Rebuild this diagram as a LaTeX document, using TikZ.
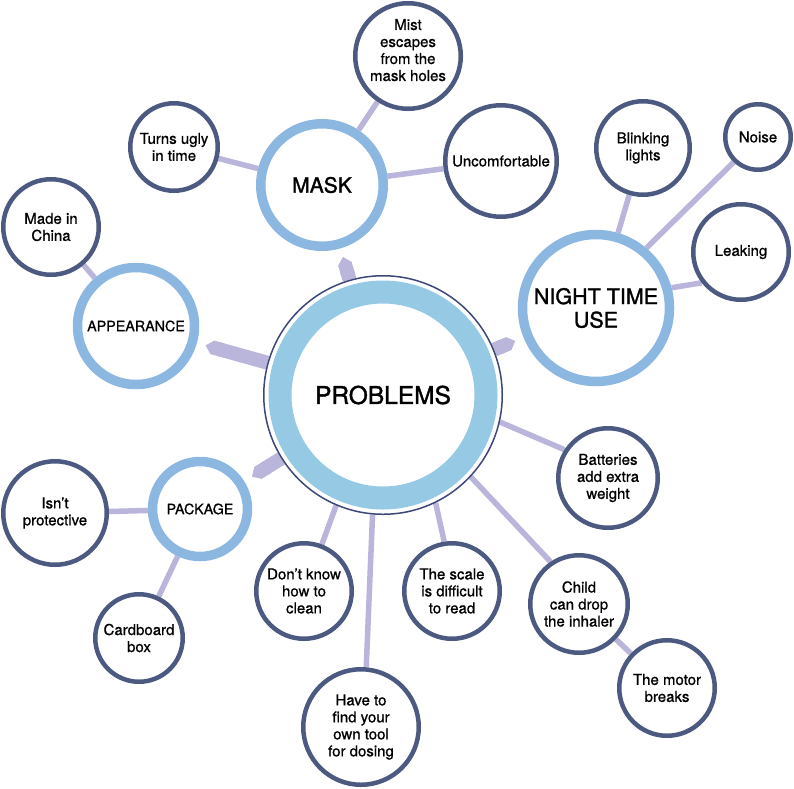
\documentclass[tikz,border=0pt]{standalone}
\usepackage{fontspec}
\setmainfont{TeX Gyre Heros}[FakeBold=0.8]
\newfontfamily\headfont{TeX Gyre Heros}[FakeBold=1.4]
\usepackage{tikz}
\usetikzlibrary{arrows.meta,backgrounds}

\definecolor{linkcol}{HTML}{B9B5DB}
\definecolor{leafcol}{HTML}{4C5A82}
\definecolor{topiccol}{HTML}{8BB7E1}
\definecolor{probring}{HTML}{96CAE4}
\definecolor{probline}{HTML}{3E4878}

\begin{document}
\begin{tikzpicture}[x=1pt,y=-1pt,
    leaf/.style={circle,draw=leafcol,line width=4.5pt,fill=white,inner sep=0pt,
      align=center,font=\fontsize{15}{17}\selectfont},
    topic/.style={circle,draw=topiccol,line width=9.5pt,fill=white,inner sep=0pt,align=center},
    link/.style={draw=linkcol,line width=5.5pt},
    band/.style={draw=linkcol,line width=14pt,-{Triangle Cap},shorten >=9pt}]
      \useasboundingbox (0,0) rectangle (794,788);
      % centre
      \node[circle,draw=probline,line width=1.5pt,fill=white,minimum size=238.5pt,
        font=\headfont\fontsize{24.5}{26}\selectfont] (prob) at (383,395) {PROBLEMS};
      \draw[probring,line width=23pt] (prob.center) circle[radius=103pt];
      % topics
      \node[topic,minimum size=122.5pt,font=\headfont\fontsize{21}{23}\selectfont] (mask) at (322,185) {MASK};
      \node[topic,minimum size=117pt,font=\fontsize{14.3}{16}\selectfont] (app) at (136,326) {APPEARANCE};
      \node[topic,minimum size=147pt,font=\headfont\fontsize{21.5}{23.5}\selectfont] (night) at (596,308) {NIGHT TIME\\USE};
      \node[topic,minimum size=95pt,font=\fontsize{14.3}{16}\selectfont] (pack) at (200,509) {PACKAGE};
      % leaves
      \node[leaf,minimum size=103.5pt,text depth=12pt] (mist) at (408,56) {Mist\\escapes\\from the\\mask holes};
      \node[leaf,minimum size=87.5pt] (ugly) at (174,147) {Turns ugly\\in time};
      \node[leaf,minimum size=111.5pt] (uncomf) at (501,161) {Uncomfortable};
      \node[leaf,minimum size=95.5pt] (china) at (51,227) {Made in\\China};
      \node[leaf,minimum size=93.5pt] (blink) at (643,148) {Blinking\\lights};
      \node[leaf,minimum size=65.5pt] (noise) at (758,137) {Noise};
      \node[leaf,minimum size=95.5pt] (leak) at (741,252) {Leaking};
      \node[leaf,minimum size=103.5pt] (isnt) at (55,513) {Isn’t\\protective};
      \node[leaf,minimum size=87.5pt] (card) at (139,638) {Cardboard\\box};
      \node[leaf,minimum size=95.5pt] (dont) at (304,591) {Don’t know\\how to\\clean};
      \node[leaf,minimum size=115.5pt] (have) at (361,727) {Have to\\find your\\own tool\\for dosing};
      \node[leaf,minimum size=95.5pt] (scale) at (452,591) {The scale\\is difficult\\to read};
      \node[leaf,minimum size=99.5pt] (batt) at (608,478) {Batteries\\add extra\\weight};
      \node[leaf,minimum size=97.5pt] (child) at (579,604) {Child\\can drop\\the inhaler};
      \node[leaf,minimum size=95.5pt] (motor) at (667,688) {The motor\\breaks};
      % connectors
      \begin{scope}[on background layer]
        \path[band] (prob) -- (mask);
        \path[band] (prob) -- (app);
        \path[band] (prob) -- (night);
        \path[band] (prob) -- (pack);
        \path[link] (mask) -- (mist);
        \path[link] (mask) -- (ugly);
        \path[link] (mask) -- (uncomf);
        \path[link] (app) -- (china);
        \path[link] (night) -- (blink);
        \path[link] (night.50) -- (noise.226);
        \path[link] (night.15) -- (leak.218);
        \path[link] (pack) -- (isnt);
        \path[link] (pack) -- (card);
        \path[link] (prob.-113) -- (dont.69);
        \path[link] (prob.-95) -- (have.85);
        \path[link] (prob.-64) -- (scale.99);
        \path[link] (prob.-13) -- (batt.147);
        \path[link] (prob.-43) -- (child.124);
        \path[link] (child) -- (motor);
      \end{scope}
\end{tikzpicture}
\end{document}
